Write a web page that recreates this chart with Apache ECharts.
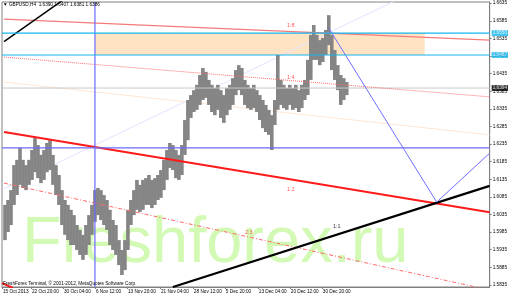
<!DOCTYPE html>
<html><head><meta charset="utf-8">
<script src="https://cdn.jsdelivr.net/npm/echarts@6.0.0/dist/echarts.min.js"></script>
<style>html,body{margin:0;padding:0;background:#fff}#c{width:510px;height:297px}</style>
</head><body><div id="c"></div>
<script>
// ---- price data (GBPUSD H4), sampled every 3 bars ----
const barStart = 1, barStep = 3;
const highs = [
1.6062,1.6076,1.6104,1.6175,1.6190,1.6224,1.6190,1.6175,1.6190,1.6218,
1.6252,1.6232,1.6204,1.6218,1.6238,1.6246,1.6204,1.6175,1.6147,1.6104,
1.6076,1.6062,1.6048,1.6033,1.6005,1.5991,1.5977,1.6005,1.6033,1.6062,
1.6104,1.6110,1.6104,1.6090,1.6076,1.6048,1.6019,1.6005,1.5962,1.5934,
1.5962,1.6048,1.6076,1.6104,1.6133,1.6119,1.6133,1.6138,1.6147,1.6133,
1.6138,1.6147,1.6161,1.6190,1.6218,1.6238,1.6232,1.6218,1.6204,1.6232,
1.6303,1.6360,1.6374,1.6388,1.6403,1.6431,1.6451,1.6440,1.6417,1.6403,
1.6394,1.6403,1.6388,1.6374,1.6394,1.6403,1.6422,1.6445,1.6459,1.6451,
1.6417,1.6403,1.6394,1.6403,1.6388,1.6374,1.6360,1.6346,1.6332,1.6317,
1.6360,1.6488,1.6417,1.6403,1.6394,1.6403,1.6394,1.6403,1.6388,1.6403,
1.6417,1.6474,1.6545,1.6573,1.6545,1.6530,1.6536,1.6559,1.6601,1.6545,
1.6502,1.6459,1.6431,1.6422,1.6411];
const lows = [
1.5962,1.5985,1.6005,1.6062,1.6090,1.6119,1.6110,1.6104,1.6119,1.6133,
1.6155,1.6138,1.6124,1.6133,1.6155,1.6161,1.6119,1.6090,1.6062,1.6005,
1.5977,1.5962,1.5948,1.5948,1.5934,1.5920,1.5906,1.5920,1.5948,1.5977,
1.6014,1.6033,1.6019,1.6005,1.5991,1.5948,1.5934,1.5920,1.5891,1.5863,
1.5877,1.5934,1.6005,1.6033,1.6048,1.6042,1.6048,1.6062,1.6062,1.6053,
1.6062,1.6076,1.6082,1.6104,1.6133,1.6167,1.6161,1.6138,1.6133,1.6147,
1.6204,1.6246,1.6309,1.6326,1.6332,1.6346,1.6360,1.6366,1.6346,1.6326,
1.6317,1.6332,1.6309,1.6295,1.6317,1.6332,1.6346,1.6374,1.6388,1.6374,
1.6346,1.6337,1.6332,1.6337,1.6326,1.6303,1.6280,1.6269,1.6261,1.6218,
1.6289,1.6332,1.6346,1.6337,1.6332,1.6346,1.6332,1.6337,1.6326,1.6337,
1.6360,1.6374,1.6417,1.6474,1.6474,1.6459,1.6468,1.6488,1.6516,1.6445,
1.6417,1.6388,1.6346,1.6360,1.6374];

// ---- axes ----
const timeTicks  = [-2, 27, 59, 91, 123, 156, 189, 221, 254, 286, 318];
const timeLabels = ['15 Oct 2013','22 Oct 20:00','30 Oct 04:00','6 Nov 12:00','13 Nov 20:00',
  '21 Nov 04:00','28 Nov 12:00','5 Dec 20:00','13 Dec 04:00','20 Dec 12:00','30 Dec 20:00'];
const yTicks = [1.5835,1.5885,1.5935,1.5985,1.6035,1.6085,1.6135,1.6185,1.6235,1.6285,
  1.6335,1.6385,1.6435,1.6485,1.6535,1.6585,1.6635];
const xMin = -2, xMax = 486, yMin = 1.58288, yMax = 1.66384;

// ---- drawn objects (anchor points: bar index, price) ----
const blackTopLine    = [[0,1.6526],[70,1.6666]];
const blackBottomLine = [[169,1.5829],[486,1.6116]];
const redMainLine     = [[0,1.6269],[486,1.6041]];
const redLowLine      = [[-2,1.5840],[9,1.5826]];
const red18Line       = [[0,1.6590],[486,1.6530]];
const red14Line       = [[0,1.6482],[486,1.6369]];
const red23Line       = [[0,1.6124],[486,1.5820]];
const peachLine       = [[0,1.6411],[486,1.6261]];
const lavenderLine    = [[0,1.6108],[393,1.6644]];
const blueZigzag      = [[325,1.6564],[433,1.6070],[486,1.6209]];
const zoneBox         = [[91,1.6550],[421,1.6488]];
const cyanLevels      = [1.6550, 1.6488];
const cyanLabels      = ['1.6550','1.6487'];
const blueLevel       = 1.6224;
const blueVertical    = 91;
const bidPrice        = 1.6394;
const bidLabel        = '1.6394';
const fanLabels = ['1:8','1:4','1:2','2:3','1:1'];
const fanLabelX = [287,287,287,245,333];
const fanLabelY = [1.6573,1.6425,1.6107,1.5985,1.6002];

const FS = 4.7, FONT = 'Liberation Sans';
const priceData = highs.map((h,i)=>[barStart+i*barStep, lows[i], h]);

function lineSeries(data, color, width, type, z){
  return {type:'line', data:data, symbol:'none', silent:true, z:z||3,
    lineStyle:{color:color, width:width, type:type||'solid'}, animation:false};
}
function hLine(v){ return [[xMin, v],[xMax, v]]; }
function priceTag(v, text, bg, fg){
  return {type:'scatter', z:6, silent:true, clip:false, symbolSize:0,
    data:[{value:[xMax, v], label:{show:true, position:'right', distance:2, formatter:text,
      backgroundColor:bg, color:fg, fontSize:FS, fontFamily:FONT, padding:[1,1,0,1]}}]};
}

const chart = echarts.init(document.getElementById('c'), null, {renderer:'canvas'});
chart.setOption({
  animation:false,
  grid:{left:2,right:20,top:2,bottom:10,show:true,borderColor:'#808080',borderWidth:1,backgroundColor:'transparent'},
  xAxis:{type:'value',min:xMin,max:xMax,splitLine:{show:false},
    axisLine:{show:true,onZero:false,lineStyle:{color:'#808080'}},
    axisTick:{show:true,length:2,customValues:timeTicks,lineStyle:{color:'#808080'}},
    axisLabel:{customValues:timeTicks,formatter:v=>{const k=timeTicks.indexOf(v);return k>=0?timeLabels[k]:'';},
      align:'left',margin:2,fontSize:FS,color:'#000',fontFamily:FONT,padding:[0,0,0,1]}},
  yAxis:{type:'value',position:'right',min:yMin,max:yMax,splitLine:{show:false},
    axisLine:{show:true,onZero:false,lineStyle:{color:'#808080'}},
    axisTick:{show:true,length:2,customValues:yTicks,lineStyle:{color:'#808080'}},
    axisLabel:{customValues:yTicks,formatter:v=>v.toFixed(4),margin:3,fontSize:FS,color:'#000',fontFamily:FONT}},
  graphic:[
    {type:'text',x:22,y:244,z:-10,silent:true,style:{text:'Freshforex.ru',font:'65px "Liberation Sans"',fill:'#d3fab5',verticalAlign:'middle'}},
    {type:'text',x:3,y:5,z:10,silent:true,style:{text:'▼ GBPUSD,H4  1.6390 1.6407 1.6381 1.6386',font:FS+'px "'+FONT+'"',fill:'#000',verticalAlign:'middle'}},
    {type:'text',x:3,y:284,z:10,silent:true,style:{text:'FreshForex Terminal, © 2001-2012, MetaQuotes Software Corp.',font:FS+'px "'+FONT+'"',fill:'#000',verticalAlign:'middle'}}
  ],
  series:[
    {type:'custom',z:1,silent:true,data:[zoneBox],
      renderItem:function(params,api){
        const a=api.coord([zoneBox[0][0],zoneBox[0][1]]), b=api.coord([zoneBox[1][0],zoneBox[1][1]]);
        return {type:'rect',shape:{x:a[0],y:a[1],width:b[0]-a[0],height:b[1]-a[1]},style:{fill:'#ffe4c4'}};
      }},
    lineSeries(lavenderLine,'#e2e2ff',1,'solid',1.5),
    lineSeries(peachLine,'#ffe6d2',1,'solid',1.5),
    {type:'custom',z:2,silent:true,data:priceData,
      renderItem:function(params,api){
        const x=api.value(0);
        const lo=api.coord([x,api.value(1)]), hi=api.coord([x,api.value(2)]);
        const w=api.size([barStep,0])[0]+0.6;
        return {type:'rect',shape:{x:lo[0]-w/2,y:hi[1],width:w,height:Math.max(1,lo[1]-hi[1])},style:{fill:'#858585'}};
      }},
    lineSeries(hLine(bidPrice),'#c8c8c8',1,'solid',2.5),
    lineSeries(red18Line,'#f47a7a',1.2),
    lineSeries(red14Line,'#ff6a6a',1,'dotted'),
    lineSeries(red23Line,'#ff6a6a',1,[4,2,1,2]),
    lineSeries(redMainLine,'#ff1a1a',2),
    lineSeries(redLowLine,'#ff1a1a',2),
    lineSeries(blackTopLine,'#000',1.5),
    lineSeries(blackBottomLine,'#000',2.2),
    lineSeries(blueZigzag,'#6f6fff',1),
    lineSeries(hLine(blueLevel),'#6a6aff',1.2),
    lineSeries([[blueVertical,yMin],[blueVertical,yMax]],'#6a6aff',1.2),
    lineSeries(hLine(cyanLevels[0]),'#13b6ee',1.1,'solid',4),
    lineSeries(hLine(cyanLevels[1]),'#13b6ee',1.1,'solid',4),
    priceTag(bidPrice,bidLabel,'#000','#fff'),
    priceTag(cyanLevels[0],cyanLabels[0],'#13b6ee','#fff'),
    priceTag(cyanLevels[1],cyanLabels[1],'#13b6ee','#fff'),
    {type:'scatter',z:5,silent:true,symbolSize:1,itemStyle:{color:'rgba(0,0,0,0)'},
      data:fanLabels.map((t,i)=>({value:[fanLabelX[i],fanLabelY[i]],name:t,
        label:{show:true,position:'inside',formatter:t,fontSize:5.5,fontFamily:FONT,color:t==='1:1'?'#000':'#ff3030'}}))}
  ]
});
</script></body></html>
